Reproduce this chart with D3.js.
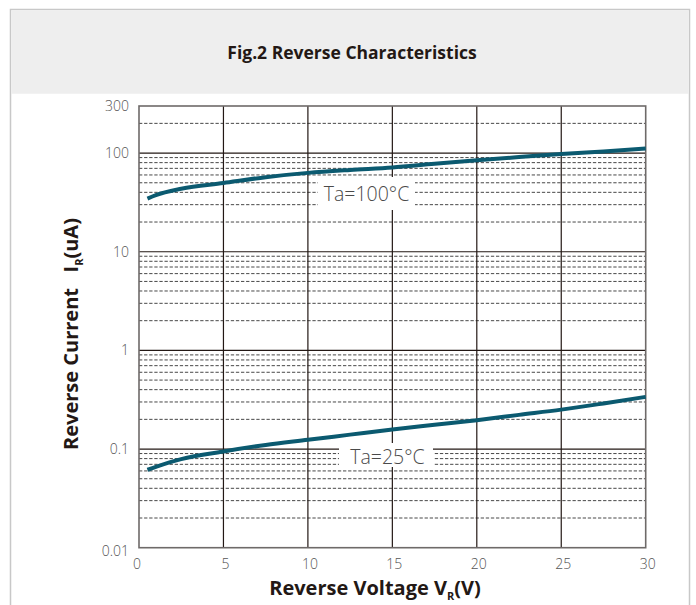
<!DOCTYPE html>
<html><head><meta charset="utf-8">
<script src="https://cdn.jsdelivr.net/npm/d3@7"></script>
<style>
html,body{margin:0;padding:0;background:#fff;}
svg{display:block;}
</style></head>
<body>
<svg id="chart" width="696" height="605"></svg>
<script>
// ---- data ----
const title = "Fig.2 Reverse Characteristics";
const voltage = [0.5, 1, 2.5, 5, 7.5, 10, 12.5, 15, 17.5, 20, 22.5, 25, 27.5, 30];
const current100 = [34.6, 37.5, 43.5, 49.8, 57, 63, 67.5, 71.5, 78, 84.5, 91, 97.7, 104, 111];
const current25 = [0.0616, 0.066, 0.079, 0.0945, 0.11, 0.124, 0.14, 0.158, 0.176, 0.196, 0.222, 0.251, 0.29, 0.338];
const xTicks = [0, 5, 10, 15, 20, 25, 30];
const yTicks = [300, 100, 10, 1, 0.1, 0.01];
const yTickLabels = ["300", "100", "10", "1", "0.1", "0.01"];
const seriesLabels = ["Ta=100°C", "Ta=25°C"];

const svg = d3.select("#chart");
const L = 139, R = 645.7, T = 106, B = 547.7;
const x = d3.scaleLinear().domain([0, 30]).range([L, R]);
const y = d3.scaleLog().domain([0.01, 300]).range([B, T]);

// card
svg.append("rect").attr("x", 10.5).attr("y", 9.5).attr("width", 679).attr("height", 610)
  .attr("fill", "#fff").attr("stroke", "#c8c8c8").attr("stroke-width", 1.5);
svg.append("rect").attr("x", 11.25).attr("y", 10.25).attr("width", 677.5).attr("height", 83.5)
  .attr("fill", "#eeeeee");
svg.append("text").attr("x", 352).attr("y", 59).attr("text-anchor", "middle")
  .attr("font-family", "'Open Sans', sans-serif").attr("font-weight", 700)
  .attr("font-size", 17.5).attr("fill", "#231815").text(title);

const g = svg.append("g");
// minor dashed grid
const minor = y.ticks().filter(v => {
  const l = Math.log10(v);
  return Math.abs(l - Math.round(l)) > 1e-6 && v < 299;
});
g.selectAll("line.minor").data(minor).join("line")
  .attr("x1", L).attr("x2", R).attr("y1", d => y(d)).attr("y2", d => y(d))
  .attr("stroke", "#333").attr("stroke-width", 0.9).attr("stroke-dasharray", "3.3,1.8");
// major horizontal
g.selectAll("line.hmaj").data(yTicks.filter(v => v < 299 && v > 0.011)).join("line")
  .attr("x1", L).attr("x2", R).attr("y1", d => y(d)).attr("y2", d => y(d))
  .attr("stroke", "#231815").attr("stroke-width", 1.2);
// vertical
g.selectAll("line.v").data(xTicks.filter(v => v > 0 && v < 30)).join("line")
  .attr("x1", d => x(d)).attr("x2", d => x(d)).attr("y1", T).attr("y2", B)
  .attr("stroke", "#231815").attr("stroke-width", 1.2);
// border
g.append("rect").attr("x", L).attr("y", T).attr("width", R - L).attr("height", B - T)
  .attr("fill", "none").attr("stroke", "#6e6a69").attr("stroke-width", 1.6);

// label boxes
const lab = [
  {t: seriesLabels[0], bx: 318, by: 177, bw: 97, bh: 33, tx: 366.5, ty: 201},
  {t: seriesLabels[1], bx: 339, by: 443, bw: 94, bh: 24, tx: 387.5, ty: 463.5}
];
lab.forEach(d => {
  g.append("rect").attr("x", d.bx).attr("y", d.by).attr("width", d.bw).attr("height", d.bh).attr("fill", "#fff");
  g.append("text").attr("x", d.tx).attr("y", d.ty).attr("text-anchor", "middle")
    .attr("font-family", "'Open Sans', sans-serif").attr("font-weight", 300)
    .attr("font-size", 19.5).attr("fill", "#4a4a4a").text(d.t);
});

// curves
const line = d3.line().x((d, i) => x(voltage[i])).y(d => y(d)).curve(d3.curveMonotoneX);
[current100, current25].forEach(s => {
  g.append("path").attr("d", line(s)).attr("fill", "none")
    .attr("stroke", "#0b5a70").attr("stroke-width", 4).attr("stroke-linecap", "butt");
});

// tick labels
const tf = "'Open Sans', sans-serif";
g.selectAll("text.yt").data(yTicks).join("text")
  .attr("x", 129).attr("y", (d, i) => y(d) + (d === 0.01 ? 8 : 5))
  .attr("text-anchor", "end").attr("font-family", tf).attr("font-weight", 300)
  .attr("font-size", 14).attr("fill", "#555").text((d, i) => yTickLabels[i]);
g.selectAll("text.xt").data(xTicks).join("text")
  .attr("x", d => x(d) + (d === 0 ? -2 : 2)).attr("y", 568.5)
  .attr("text-anchor", "middle").attr("font-family", tf).attr("font-weight", 300)
  .attr("font-size", 14).attr("fill", "#555").text(d => d);

// axis titles
const xt = svg.append("text").attr("x", 375).attr("y", 595).attr("text-anchor", "middle")
  .attr("font-family", tf).attr("font-weight", 700).attr("font-size", 20).attr("fill", "#231815");
xt.append("tspan").text("Reverse Voltage V");
xt.append("tspan").attr("font-size", 11).attr("dy", 5).text("R");
xt.append("tspan").attr("dy", -5).text("(V)");

const yt = svg.append("text").attr("transform", "translate(78,334) rotate(-90)").attr("text-anchor", "middle")
  .attr("font-family", tf).attr("font-weight", 700).attr("font-size", 20).attr("fill", "#231815")
  .attr("xml:space", "preserve").style("white-space", "pre");
yt.append("tspan").text("Reverse Current   I");
yt.append("tspan").attr("font-size", 11).attr("dy", 5).text("R");
yt.append("tspan").attr("dy", -5).text("(uA)");
</script>
</body></html>
